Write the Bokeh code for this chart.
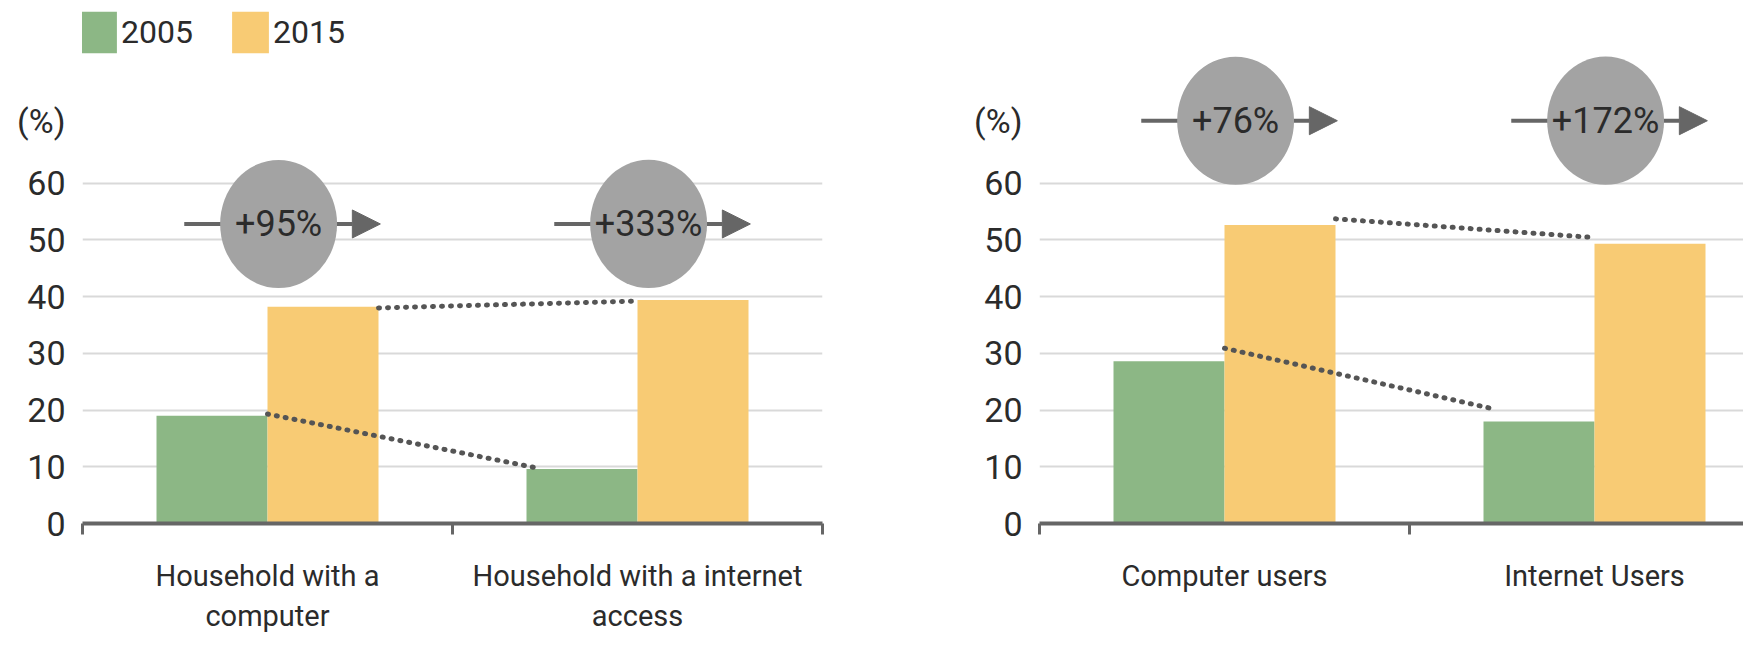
from bokeh.plotting import figure
from bokeh.layouts import row
from bokeh.models import ColumnDataSource, FixedTicker, Range1d, Arrow, NormalHead
from bokeh.embed import file_html
from bokeh.resources import INLINE
from bokeh.core.properties import value

# ---------------- data ----------------
years = ["2005", "2015"]
left_categories = ["Household with a\ncomputer", "Household with a internet\naccess"]
left_2005 = [19.0, 9.6]
left_2015 = [38.2, 39.4]
left_growth = ["+95%", "+333%"]

right_categories = ["Computer users", "Internet Users"]
right_2005 = [28.6, 18.0]
right_2015 = [52.6, 49.3]
right_growth = ["+76%", "+172%"]

y_ticks = [0, 10, 20, 30, 40, 50, 60]
unit_label = "(%)"

# ---------------- style ----------------
FONT = "Roboto"
GREEN = "#8cb785"
YELLOW = "#f8cb74"
BADGE = "#a3a3a3"
DARK = "#666666"
DOT = "#555555"
TXT = "#2b2b2b"
H = 648
FRAME_BOTTOM = 523          # px from top
PX_PER_UNIT = 5.673
Y_END = FRAME_BOTTOM / PX_PER_UNIT
CAT = 2.0                   # width of one category in x units
CAT_PX = 370
UNIT_POS = 71               # vertical position of the "(%)" label


def make_chart(cats, v05, v15, growth, width, b_left, b_right, x_end,
               badge_y, lift_lo, lift_hi, legend):
    p = figure(width=width, height=H, output_backend="svg", toolbar_location=None,
               x_range=Range1d(0, x_end), y_range=Range1d(0, Y_END),
               min_border_left=b_left, min_border_right=b_right,
               min_border_top=0, min_border_bottom=H - FRAME_BOTTOM)
    p.outline_line_color = None

    n = len(cats)
    centers = [CAT * i + CAT / 2 for i in range(n)]
    bw = 0.3 * CAT
    src = ColumnDataSource(dict(
        x05=[c - bw / 2 for c in centers],
        x15=[c + bw / 2 for c in centers],
        v05=v05, v15=v15))
    kw05 = dict(legend_label=years[0]) if legend else {}
    kw15 = dict(legend_label=years[1]) if legend else {}
    p.vbar(x="x05", top="v05", width=bw, source=src, fill_color=GREEN,
           line_color=None, **kw05)
    p.vbar(x="x15", top="v15", width=bw, source=src, fill_color=YELLOW,
           line_color=None, **kw15)

    # dotted connectors between bar tops
    p.segment(x0=[centers[0]], y0=[v05[0] + lift_lo],
              x1=[centers[1] - bw + 0.04], y1=[v05[1] + lift_lo],
              line_color=DOT, line_width=5, line_dash="1 8", line_cap="round")
    p.segment(x0=[centers[0] + bw], y0=[v15[0] + lift_hi],
              x1=[centers[1]], y1=[v15[1] + lift_hi],
              line_color=DOT, line_width=5, line_dash="1 8", line_cap="round")

    # growth badges
    bsrc = ColumnDataSource(dict(
        xs=[c - 0.45 for c in centers], xe=[c + 0.61 for c in centers],
        xc=[c + 0.06 for c in centers], y=[badge_y] * n, t=growth))
    p.add_layout(Arrow(end=NormalHead(size=28, fill_color=DARK, line_color=DARK),
                       x_start="xs", y_start="y", x_end="xe", y_end="y",
                       line_color=DARK, line_width=4, source=bsrc, level="underlay"))
    p.ellipse(x="xc", y="y", width=0.632, height=22.6, source=bsrc,
              fill_color=BADGE, line_color=None)
    p.text(x="xc", y="y", text="t", source=bsrc, text_font=value(FONT),
           text_font_size="36px", text_align="center", text_baseline="middle",
           text_color=TXT)

    # y axis (with the unit label sitting above the top tick)
    p.yaxis.ticker = FixedTicker(ticks=y_ticks + [UNIT_POS])
    p.yaxis.major_label_overrides = {UNIT_POS: unit_label}
    p.yaxis.axis_line_color = None
    p.yaxis.major_tick_line_color = None
    p.yaxis.minor_tick_line_color = None
    p.yaxis.major_tick_out = 0
    p.yaxis.major_tick_in = 0
    p.yaxis.major_label_standoff = 17
    p.yaxis.major_label_text_font = FONT
    p.yaxis.major_label_text_font_size = "34px"
    p.yaxis.major_label_text_color = TXT

    # x axis: labels at category centres, ticks at category boundaries
    p.xaxis.ticker = FixedTicker(ticks=centers,
                                 minor_ticks=[CAT * i for i in range(n + 1)])
    p.xaxis.major_label_overrides = {c: lab for c, lab in zip(centers, cats)}
    p.xaxis.axis_line_color = DARK
    p.xaxis.axis_line_width = 4
    p.xaxis.major_tick_line_color = None
    p.xaxis.major_tick_out = 0
    p.xaxis.major_tick_in = 0
    p.xaxis.minor_tick_line_color = DARK
    p.xaxis.minor_tick_line_width = 3
    p.xaxis.minor_tick_in = 0
    p.xaxis.minor_tick_out = 11
    p.xaxis.major_label_standoff = 24
    p.xaxis.major_label_text_font = FONT
    p.xaxis.major_label_text_font_size = "29px"
    p.xaxis.major_label_text_color = TXT

    p.xgrid.grid_line_color = None
    p.ygrid.ticker = FixedTicker(ticks=y_ticks[1:])
    p.ygrid.grid_line_color = "#d9d9d9"
    p.ygrid.grid_line_width = 2

    if legend:
        lg = p.legend[0]
        lg.orientation = "horizontal"
        lg.border_line_color = None
        lg.background_fill_alpha = 0
        lg.margin = 0
        lg.padding = 0
        lg.glyph_width = 46
        lg.glyph_height = 52
        lg.label_height = 52
        lg.label_standoff = 0
        lg.spacing = 34
        lg.label_text_font = FONT
        lg.label_text_font_size = "32px"
        lg.label_text_color = TXT
        lg.location = (-7, FRAME_BOTTOM - 58)
    return p


left = make_chart(left_categories, left_2005, left_2015, left_growth,
                  width=900, b_left=82, b_right=78, x_end=2 * CAT,
                  badge_y=52.8, lift_lo=0.3, lift_hi=-0.2, legend=True)
right = make_chart(right_categories, right_2005, right_2015, right_growth,
                   width=843, b_left=139, b_right=0, x_end=704 / CAT_PX * CAT,
                   badge_y=71.0, lift_lo=2.3, lift_hi=1.1, legend=False)

layout = row(left, right)
open("out.html", "w").write(file_html(layout, INLINE))
